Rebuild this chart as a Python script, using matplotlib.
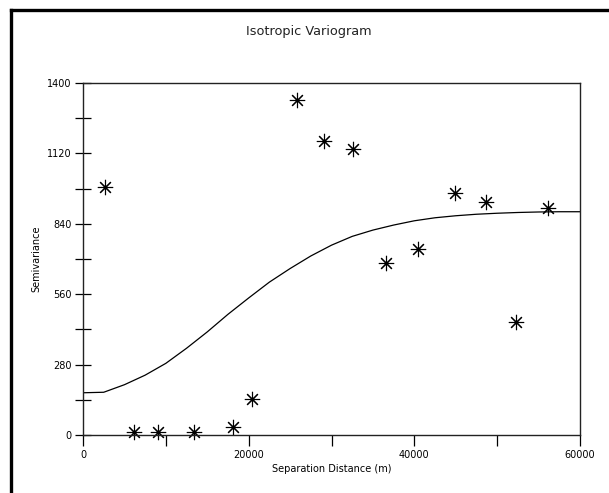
import matplotlib
matplotlib.use("Agg")
import matplotlib.pyplot as plt
from matplotlib.lines import Line2D
from matplotlib.ticker import MultipleLocator

plt.rcParams['font.family'] = ['DejaVu Sans']

# experimental semivariance points
lag_dist = [2650, 6150, 9050, 13400, 18100, 20400, 25850, 29100, 32600,
            36600, 40450, 44900, 48650, 52250, 56150]
semivar = [986, 12, 12, 12, 32, 143, 1332, 1169, 1137,
           684, 740, 962, 927, 450, 903]

# fitted model line
model_dist = [0, 2500, 5000, 7500, 10000, 12500, 15000, 17500, 20000, 22500,
              25000, 27500, 30000, 32500, 35000, 37500, 40000, 42500, 45000,
              47500, 50000, 52500, 55000, 57500, 60000]
model_val = [168, 170, 200, 238, 285, 345, 410, 480, 545, 608,
             662, 712, 755, 790, 815, 835, 852, 864, 872,
             878, 882, 885, 887, 888, 888]

fig = plt.figure(figsize=(6.09, 4.93), dpi=100)
ax = fig.add_axes([83 / 609, 58 / 493, 497 / 609, 352 / 493])

ax.plot(model_dist, model_val, color='black', linewidth=0.9)
ax.plot(lag_dist, semivar, linestyle='none', marker=(8, 2, 0),
        markersize=11, markeredgewidth=0.8, color='black', clip_on=False)

ax.set_xlim(0, 60000)
ax.set_ylim(0, 1400)
ax.xaxis.set_major_locator(MultipleLocator(20000))
ax.xaxis.set_minor_locator(MultipleLocator(10000))
ax.yaxis.set_major_locator(MultipleLocator(280))
ax.yaxis.set_minor_locator(MultipleLocator(140))
ax.tick_params(axis='x', which='both', direction='out', length=8, width=0.9,
               labelsize=7, pad=3)
ax.tick_params(axis='y', which='both', direction='inout', length=12, width=0.9,
               labelsize=7, pad=2)
for s in ax.spines.values():
    s.set_linewidth(1.0)
    s.set_color('#222222')

ax.set_xlabel('Separation Distance (m)', fontsize=7, labelpad=3)
ax.set_ylabel('Semivariance', fontsize=7, labelpad=4)
fig.text(309 / 609, 1 - 31 / 493, 'Isotropic Variogram', ha='center',
         va='center', fontsize=9.3, color='#222222')

# thick outer frame (left and top edges only visible)
fx = 11 / 609
fy = 1 - 10 / 493
fig.add_artist(Line2D([fx, fx], [0, fy], transform=fig.transFigure,
                      color='black', linewidth=2.4))
fig.add_artist(Line2D([fx, 1], [fy, fy], transform=fig.transFigure,
                      color='black', linewidth=2.4))

fig.savefig('out.png', dpi=100)
